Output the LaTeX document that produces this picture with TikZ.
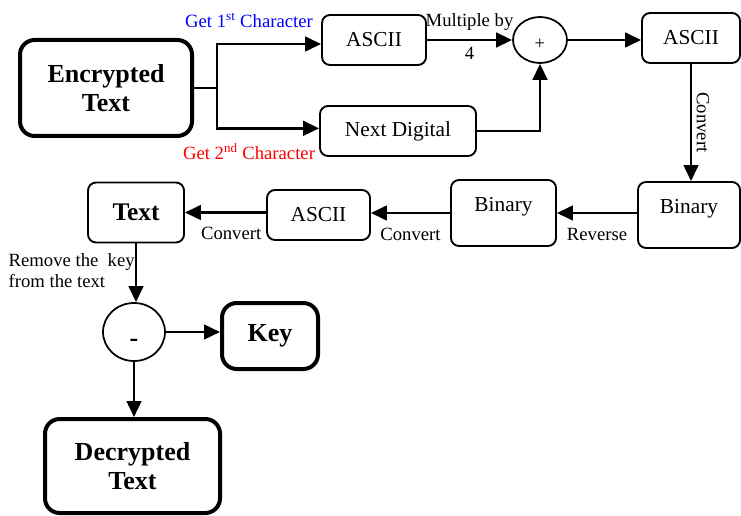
\documentclass[tikz,border=0pt]{standalone}
\usepackage{fontspec}
\setmainfont{Liberation Serif}
\usetikzlibrary{arrows.meta,shapes.geometric}
\definecolor{getblue}{HTML}{0000FF}
\definecolor{getred}{HTML}{FF0000}

\begin{document}
\begin{tikzpicture}[x=0.75pt, y=-0.75pt,
    box/.style={draw, line width=1.4pt, rounded corners=6pt, align=center, font=\fontsize{16}{19}\selectfont},
    bigbox/.style={draw, line width=3pt, rounded corners=11pt, align=center, font=\fontsize{19.5}{21.5}\selectfont\bfseries},
    opnode/.style={draw, ellipse, line width=1.3pt, inner sep=0pt},
    conn/.style={line width=1.9pt},
    arr/.style={conn, -{Triangle[length=12pt, width=11pt]}},
    lbl/.style={font=\fontsize{14}{16}\selectfont}]
        \useasboundingbox (0,0) rectangle (741,516);

        % Input
        \node[bigbox, minimum width=129pt, minimum height=72pt] (enc) at (106,88) {Encrypted\\Text};
        \coordinate (split) at (217,88);

        % Two characters
        \node[box, minimum width=78pt, minimum height=37.5pt] (ascA) at (374,40) {ASCII};
        \node[box, minimum width=117pt, minimum height=37.5pt] (nextd) at (398,131) {Next Digital};
        \node[lbl, text=getblue] (get1) at (249,20) {Get 1\textsuperscript{st} Character};
        \node[lbl, text=getred] (get2) at (249,152) {Get 2\textsuperscript{nd} Character};

        % Sum and back to ASCII
        \node[opnode, minimum width=40.5pt, minimum height=34.5pt, font=\fontsize{14}{16}\selectfont, text height=14.5pt, text depth=0pt] (plus) at (540,40) {+};
        \node[box, minimum width=73.5pt, minimum height=37.5pt] (ascB) at (691,38) {ASCII};

        % Binary row
        \node[box, minimum width=76.5pt, minimum height=49.5pt, text depth=13pt] (binR) at (689,215) {Binary};
        \node[box, minimum width=78.75pt, minimum height=49.5pt, text depth=13pt] (binM) at (503.5,213) {Binary};
        \node[box, minimum width=77.25pt, minimum height=37.5pt] (ascC) at (318.5,215) {ASCII};
        \node[box, minimum width=72pt, minimum height=45pt, font=\fontsize{19}{21}\selectfont\bfseries] (txt) at (136,212.5) {Text};

        % Key removal
        \node[opnode, minimum width=46.5pt, minimum height=43.5pt, font=\fontsize{19.5}{21}\selectfont\bfseries, text height=21pt, text depth=0pt] (minus) at (134,332) {-};
        \node[bigbox, minimum width=72pt, minimum height=49.5pt] (key) at (270,336) {Key};
        \node[bigbox, minimum width=131.25pt, minimum height=70.5pt] (dec) at (132.5,466) {Decrypted\\Text};
        \node[lbl, anchor=west, align=left, font=\fontsize{14}{15.75}\selectfont] (remove) at (4,271) {Remove the~ key\\from the text};

        % Connectors
        \draw[conn] (enc.east) -- (split);
        \draw[arr] (split) |- ([yshift=-3pt]ascA.west);
        \draw[arr] (split) |- ([yshift=2pt]nextd.west);
        \draw[arr] (ascA.east) -- node[lbl, above=3pt] {Multiple by} node[lbl, below=1pt] {4} (ascA.east -| plus.west);
        \draw[arr] (nextd.east) -| (plus.south);
        \draw[arr] (plus.east) -- (plus.east -| ascB.west);
        \draw[arr] (ascB.south) -- node[lbl, midway, rotate=-90, anchor=south] {Convert} (ascB.south |- binR.north);
        \draw[arr] (binR.west |- binM.east) -- node[lbl, below=7pt] {Reverse} (binM.east);
        \draw[arr] (binM.west) -- node[lbl, below=7pt] {Convert} (binM.west -| ascC.east);
        \draw[arr] (ascC.west |- txt.east) -- node[lbl, below=7pt, pos=0.43] {Convert} (txt.east);
        \draw[arr] (txt.south) -- (txt.south |- minus.north);
        \draw[arr] (minus.east) -- (minus.east -| key.west);
        \draw[arr] (minus.south) -- (minus.south |- dec.north);
      \end{tikzpicture}
\end{document}
